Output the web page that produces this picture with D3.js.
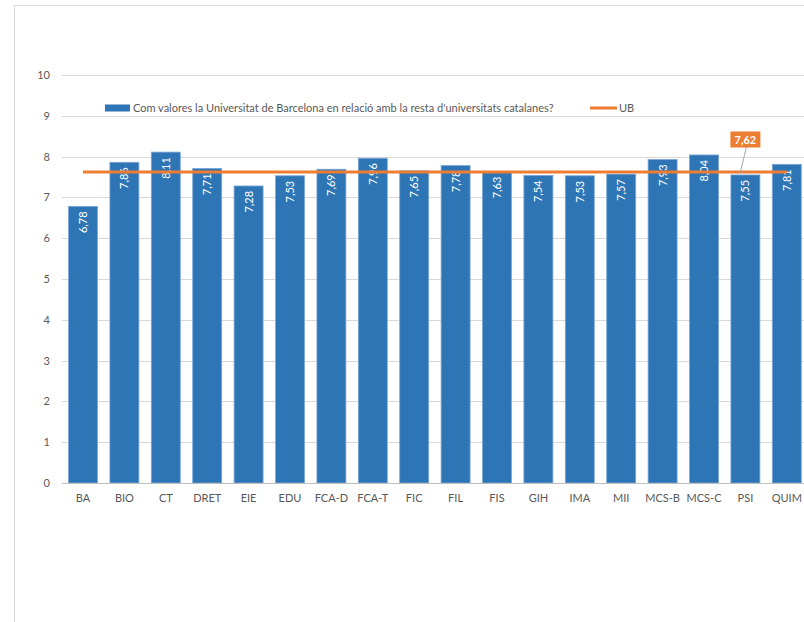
<!DOCTYPE html>
<html><head><meta charset="utf-8">
<script src="https://cdn.jsdelivr.net/npm/d3@7/dist/d3.min.js"></script>
<style>body{margin:0;background:#fff;} text{font-family:Lato,"Open Sans",sans-serif;}</style>
</head><body>
<svg id="c" width="804" height="622"></svg>
<script>
const categories = ["BA","BIO","CT","DRET","EIE","EDU","FCA-D","FCA-T","FIC","FIL","FIS","GIH","IMA","MII","MCS-B","MCS-C","PSI","QUIM"];
const values = [6.78,7.86,8.11,7.71,7.28,7.53,7.69,7.96,7.65,7.78,7.63,7.54,7.53,7.57,7.93,8.04,7.55,7.81];
const ubValue = 7.62;
const yTicks = [0,1,2,3,4,5,6,7,8,9,10];
const seriesName = "Com valores la Universitat de Barcelona en relació amb la resta d'universitats catalanes?";
const ubName = "UB";

const svg = d3.select("#c");
const fmt = v => d3.format(".2f")(v).replace(".", ",");
const blue = "#2E75B6", orange = "#ED7D31";

// outer frame
svg.append("path").attr("d","M14.5,622 V5.5 H804").attr("fill","none").attr("stroke","#d9d9d9").attr("stroke-width",1);

const x = d3.scaleBand().domain(categories).range([62.3, 807.5]).paddingInner(0.3).paddingOuter(0.15);
const y = d3.scaleLinear().domain([0,10]).range([483,75]);

// gridlines
svg.append("g").selectAll("line").data(yTicks.slice(1)).join("line")
  .attr("x1",62).attr("x2",804).attr("y1",d=>Math.round(y(d))+0.5).attr("y2",d=>Math.round(y(d))+0.5)
  .attr("stroke","#d9d9d9").attr("stroke-width",1);

// y labels
svg.append("g").selectAll("text").data(yTicks).join("text")
  .attr("x",50).attr("y",d=>y(d)+4).attr("text-anchor","end")
  .attr("font-size",11).attr("fill","#595959").text(d=>d);

// bars
svg.append("g").selectAll("rect").data(values).join("rect")
  .attr("x",(d,i)=>x(categories[i])).attr("width",x.bandwidth())
  .attr("y",d=>y(d)).attr("height",d=>y(0)-y(d))
  .attr("fill",blue).attr("stroke","#7BA7D6").attr("stroke-width",0.8);

// baseline
svg.append("line").attr("x1",62).attr("x2",804).attr("y1",483.5).attr("y2",483.5).attr("stroke","#bfbfbf");

// x labels
svg.append("g").selectAll("text").data(categories).join("text")
  .attr("x",d=>x(d)+x.bandwidth()/2).attr("y",502).attr("text-anchor","middle")
  .attr("font-size",11).attr("fill","#595959").text(d=>d);

// value labels (rotated)
svg.append("g").selectAll("text").data(values).join("text")
  .attr("transform",(d,i)=>`translate(${x(categories[i])+x.bandwidth()/2+4},${y(d)+5}) rotate(-90)`)
  .attr("text-anchor","end").attr("font-size",11).attr("fill","#fff").text(d=>fmt(d));

// UB line
const xc0 = x(categories[0])+x.bandwidth()/2, xc1 = x(categories[categories.length-1])+x.bandwidth()/2;
svg.append("line").attr("x1",xc0).attr("x2",xc1).attr("y1",y(ubValue)).attr("y2",y(ubValue))
  .attr("stroke",orange).attr("stroke-width",3);

// callout
const psiX = x("PSI")+x.bandwidth()/2;
svg.append("line").attr("x1",psiX-5).attr("y1",y(ubValue)).attr("x2",psiX+1).attr("y2",147)
  .attr("stroke","#a6a6a6").attr("stroke-width",1);
svg.append("rect").attr("x",psiX-15).attr("y",131.5).attr("width",30).attr("height",16).attr("fill",orange);
svg.append("text").attr("x",psiX).attr("y",143.5).attr("text-anchor","middle").attr("font-size",11)
  .attr("font-weight","bold").attr("fill","#fff").text(fmt(ubValue));

// legend
const lg = svg.append("g");
lg.append("rect").attr("x",105).attr("y",104.5).attr("width",25).attr("height",7).attr("fill",blue);
lg.append("text").attr("x",133).attr("y",112).attr("font-size",11).attr("fill","#595959").text(seriesName);
lg.append("line").attr("x1",590).attr("x2",617).attr("y1",108).attr("y2",108).attr("stroke",orange).attr("stroke-width",3);
lg.append("text").attr("x",619).attr("y",112).attr("font-size",11).attr("fill","#595959").text(ubName);
</script>
</body></html>
